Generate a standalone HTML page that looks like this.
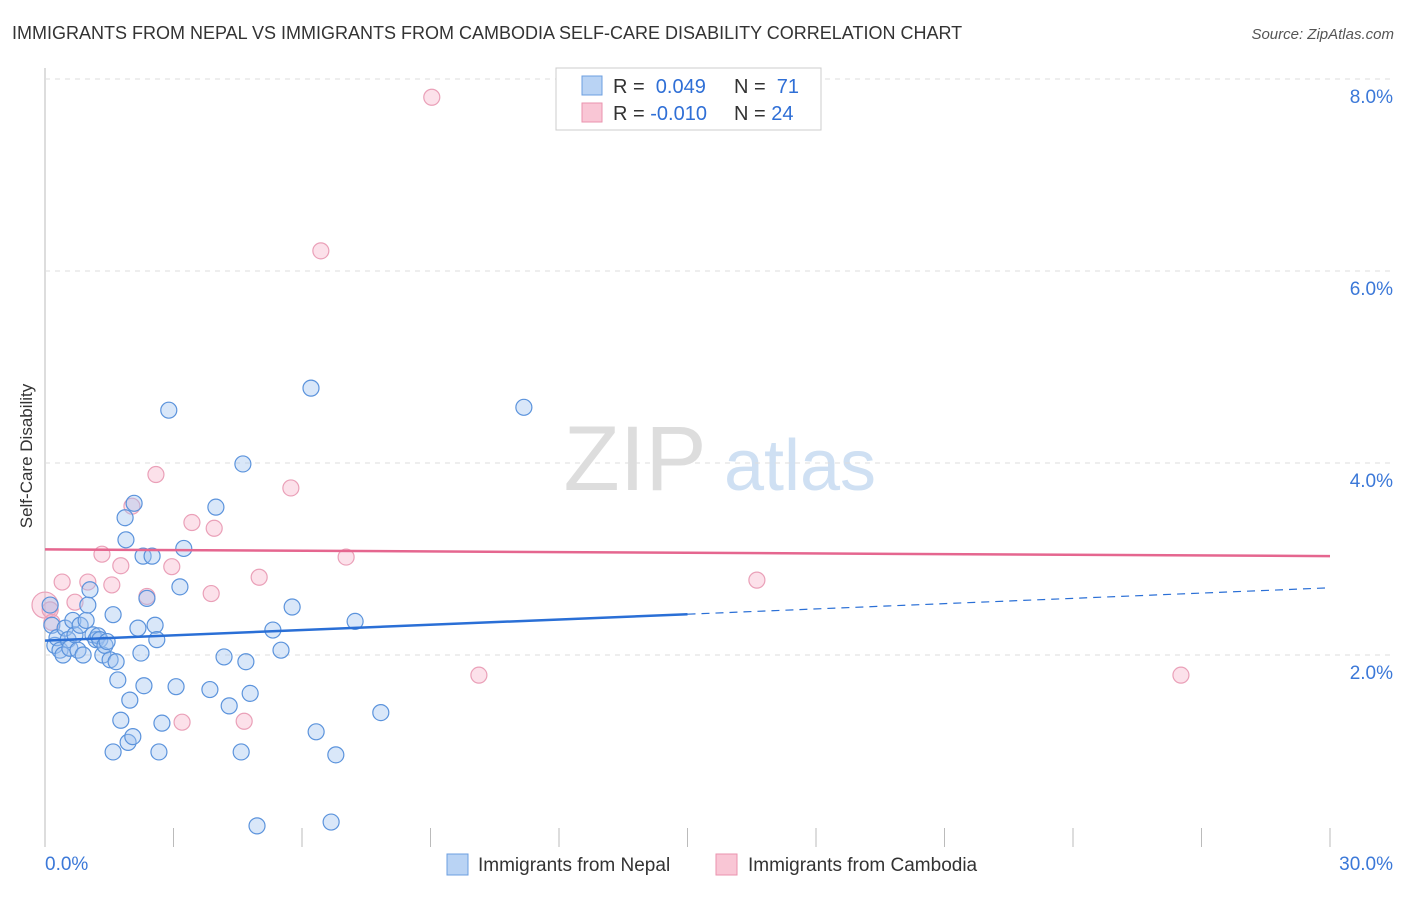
<!DOCTYPE html>
<html><head><meta charset="utf-8"><style>
body{margin:0;background:#fff;font-family:"Liberation Sans",sans-serif}
svg text{font-family:"Liberation Sans",sans-serif}
</style></head><body>
<svg id="c" width="1406" height="892">
<text x="12" y="39" font-size="18" fill="#333">IMMIGRANTS FROM NEPAL VS IMMIGRANTS FROM CAMBODIA SELF-CARE DISABILITY CORRELATION CHART</text>
<text x="1394" y="39" font-size="15" fill="#555" font-style="italic" text-anchor="end">Source: ZipAtlas.com</text>
<text x="32" y="456" font-size="17" fill="#333" text-anchor="middle" transform="rotate(-90 32 456)">Self-Care Disability</text>
<g><text x="635" y="490" font-size="92" fill="#ddd" font-family="Liberation Serif" text-anchor="middle">ZIP</text><text x="800" y="490" font-size="72" fill="#cfe0f3" text-anchor="middle">atlas</text></g>
<g id="grid"></g><g id="pts"></g><g id="lines"></g>
<g>
<rect x="556" y="68" width="265" height="62" fill="#fff" stroke="#ccc"/>
<rect x="582" y="76" width="20" height="19" fill="#b9d3f4" stroke="#6c9fe0"/>
<rect x="582" y="103" width="20" height="19" fill="#f9c6d5" stroke="#ea93ae"/>
<text x="613" y="93" font-size="20" fill="#333">R = <tspan fill="#2f6fd6">&#160;0.049</tspan><tspan x="734">N = </tspan><tspan fill="#2f6fd6">&#160;71</tspan></text>
<text x="613" y="120" font-size="20" fill="#333">R = <tspan fill="#2f6fd6">-0.010</tspan><tspan x="734">N = </tspan><tspan fill="#2f6fd6">24</tspan></text>
</g>
<g>
<rect x="447" y="854" width="21" height="21" fill="#b9d3f4" stroke="#6c9fe0"/>
<text x="478" y="871" font-size="19" fill="#333">Immigrants from Nepal</text>
<rect x="716" y="854" width="21" height="21" fill="#f9c6d5" stroke="#ea93ae"/>
<text x="748" y="871" font-size="19" fill="#333">Immigrants from Cambodia</text>
</g>
</svg>
<script>
const xTicks=[0,3,6,9,12,15,18,21,24,27,30];
const yTicks=[2,4,6,8];
const yTickLabels=["2.0%","4.0%","6.0%","8.0%"];
const nepalX=[0.12,0.16,0.23,0.28,0.35,0.42,0.47,0.54,0.58,0.65,0.70,0.77,0.82,0.89,0.96,1.00,1.05,1.12,1.19,1.24,1.28,1.35,1.40,1.45,1.52,1.59,1.66,1.70,1.87,1.89,1.98,1.77,1.59,1.94,2.05,2.08,2.29,2.31,2.24,2.17,2.38,2.50,2.57,2.61,2.73,2.66,2.89,3.06,3.15,3.24,3.85,3.99,4.18,4.30,4.62,4.69,4.58,4.79,4.95,5.32,5.51,5.77,6.21,6.33,6.68,6.79,7.24,7.84,11.18];
const nepalY=[2.52,2.31,2.10,2.18,2.05,2.00,2.28,2.16,2.07,2.36,2.21,2.05,2.31,2.00,2.36,2.52,2.68,2.21,2.16,2.20,2.16,2.00,2.10,2.14,1.95,2.42,1.93,1.74,3.43,3.20,1.53,1.32,0.99,1.09,1.15,3.58,3.03,1.68,2.02,2.28,2.59,3.03,2.31,2.16,1.29,0.99,4.55,1.67,2.71,3.11,1.64,3.54,1.98,1.47,3.99,1.93,0.99,1.60,0.22,2.26,2.05,2.50,4.78,1.20,0.26,0.96,2.35,1.40,4.58];
const cambX=[0.0,0.12,0.16,0.40,0.70,1.00,1.33,1.56,1.77,2.03,2.38,2.59,2.96,3.20,3.43,3.88,3.95,4.65,5.00,5.74,6.44,7.03,9.03,10.13,16.62,26.52];
const cambY=[2.52,2.47,2.34,2.76,2.55,2.76,3.05,2.73,2.93,3.55,2.61,3.88,2.92,1.30,3.38,2.64,3.32,1.31,2.81,3.74,6.21,3.02,7.81,1.79,2.78,1.79];
const nepalTrend=[2.15,2.70];
const cambTrend=[3.10,3.03];
const X=v=>45+v/30*1285, Y=v=>847-96*v;
const NS="http://www.w3.org/2000/svg";
function mk(p,t,a){const e=document.createElementNS(NS,t);for(const k in a)e.setAttribute(k,a[k]);p.appendChild(e);return e;}
const g=document.getElementById('grid');
const ax=mk(g,'line',{x1:45,y1:68,x2:45,y2:847,stroke:'#bbb'});


yTicks.forEach((t,i)=>{
 const l=mk(g,'line',{x1:45,y1:Y(t),x2:1394,y2:Y(t),stroke:'#ddd','stroke-dasharray':'5,5'});
 
 
 const tx=mk(g,'text',{x:1393,y:Y(t)+24,'font-size':19,fill:'#3b78d8','text-anchor':'end'});
 tx.textContent=yTickLabels[i];
 
 
});
xTicks.forEach(t=>{
 const l=mk(g,'line',{x1:X(t),y1:828,x2:X(t),y2:847,stroke:'#bbb'});
 
 
});
const x0=mk(g,'text',{x:45,y:870,'font-size':19,fill:'#3b78d8'});x0.textContent='0.0%';


const x1=mk(g,'text',{x:1393,y:870,'font-size':19,fill:'#3b78d8','text-anchor':'end'});x1.textContent='30.0%';


const P=document.getElementById('pts');
cambX.forEach((v,i)=>{
 const c=mk(P,'circle',{cx:X(v),cy:Y(cambY[i]),r:i==0?13:8,fill:'rgba(246,170,195,0.35)',stroke:'#eaa0b8','stroke-width':1.2});
 
 
});
nepalX.forEach((v,i)=>{
 const c=mk(P,'circle',{cx:X(v),cy:Y(nepalY[i]),r:8,fill:'rgba(160,195,240,0.4)',stroke:'#5b93dc','stroke-width':1.2});
 
 
});
const L=document.getElementById('lines');
const ny=v=>nepalTrend[0]+(nepalTrend[1]-nepalTrend[0])*v/30;
const l1=mk(L,'line',{x1:X(0),y1:Y(ny(0)),x2:X(15),y2:Y(ny(15)),stroke:'#2a6fd6','stroke-width':2.5});


const l2=mk(L,'line',{x1:X(15),y1:Y(ny(15)),x2:X(30),y2:Y(ny(30)),stroke:'#2a6fd6','stroke-width':1.2,'stroke-dasharray':'8,6'});


const l3=mk(L,'line',{x1:X(0),y1:Y(cambTrend[0]),x2:X(30),y2:Y(cambTrend[1]),stroke:'#e5668f','stroke-width':2.5});


</script>
</body></html>
